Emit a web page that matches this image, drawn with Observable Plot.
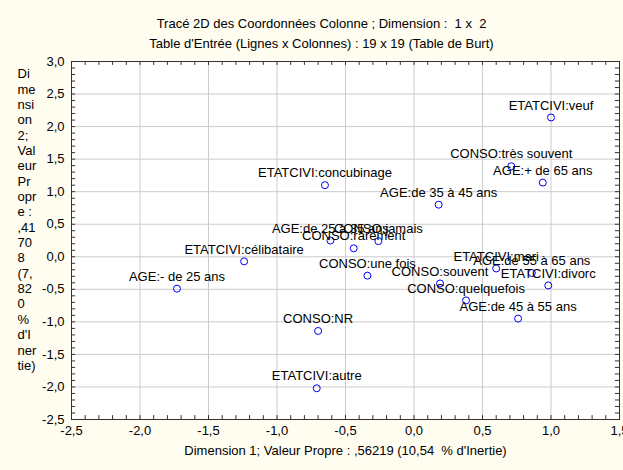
<!DOCTYPE html>
<html>
<head>
<meta charset="utf-8">
<script src="https://cdn.jsdelivr.net/npm/d3@7"></script>
<script src="https://cdn.jsdelivr.net/npm/@observablehq/plot@0.6"></script>
<style>
  html, body { margin: 0; padding: 0; background: #fffcf0; }
  svg { display: block; }
</style>
</head>
<body>
<div id="chart"></div>
<script>
const labels = [
  "ETATCIVI:veuf", "CONSO:très souvent", "AGE:+ de 65 ans", "AGE:de 35 à 45 ans",
  "ETATCIVI:concubinage", "AGE:de 25 à 35 ans", "CONSO:rarement", "CONSO:jamais",
  "CONSO:une fois", "ETATCIVI:célibataire", "AGE:- de 25 ans", "CONSO:NR",
  "ETATCIVI:autre", "CONSO:souvent", "ETATCIVI:mari", "AGE:de 55 à 65 ans",
  "ETATCIVI:divorc", "CONSO:quelquefois", "AGE:de 45 à 55 ans"
];
const dim1 = [1.00, 0.71, 0.94, 0.18, -0.65, -0.61, -0.44, -0.26, -0.34, -1.24, -1.73, -0.70, -0.71, 0.19, 0.60, 0.86, 0.98, 0.38, 0.76];
const dim2 = [2.14, 1.39, 1.14, 0.80, 1.10, 0.25, 0.13, 0.24, -0.29, -0.07, -0.49, -1.14, -2.02, -0.41, -0.18, -0.25, -0.44, -0.67, -0.95];

const xTicks = [-2.5, -2.0, -1.5, -1.0, -0.5, 0.0, 0.5, 1.0, 1.5];
const yTicks = [-2.5, -2.0, -1.5, -1.0, -0.5, 0.0, 0.5, 1.0, 1.5, 2.0, 2.5, 3.0];
const xMinor = d3.range(-25, 16).map(i => i / 10);
const yMinor = d3.range(-25, 31).map(i => i / 10);

const title1 = "Tracé 2D des Coordonnées Colonne ; Dimension :  1 x  2";
const title2 = "Table d'Entrée (Lignes x Colonnes) : 19 x 19 (Table de Burt)";
const xTitle = "Dimension 1; Valeur Propre : ,56219 (10,54  % d'Inertie)";
const yTitle = "Di\nme\nnsi\non\n2;\nVal\neur\nPr\nopr\ne :\n,41\n70\n8\n(7,\n82\n0\n%\nd'I\nner\ntie)";

const points = labels.map((l, i) => ({label: l, x: dim1[i], y: dim2[i]}));
const fmt = d => d.toFixed(1).replace(".", ",");

const xMin = -2.5, xMax = 1.5, yMin = -2.5, yMax = 3.0;
const xt = 0.03, yt = 0.06;
const FS = 13;

const chart = Plot.plot({
  width: 623,
  height: 470,
  marginLeft: 71,
  marginRight: 4,
  marginTop: 61,
  marginBottom: 51,
  style: {background: "#fffcf0", fontFamily: "Arial, 'Liberation Sans', sans-serif", fontSize: FS + "px", color: "#000", overflow: "hidden"},
  x: {domain: [xMin, xMax]},
  y: {domain: [yMin, yMax]},
  marks: [
    Plot.frame({fill: "white", stroke: null}),
    Plot.gridX(xTicks, {stroke: "#cccccc", strokeOpacity: 1}),
    Plot.gridY(yTicks, {stroke: "#cccccc", strokeOpacity: 1}),
    // inward minor ticks
    Plot.ruleX(xMinor, {y1: yMin, y2: yMin + yt, stroke: "#333"}),
    Plot.ruleX(xMinor, {y1: yMax, y2: yMax - yt, stroke: "#333"}),
    Plot.ruleY(yMinor, {x1: xMin, x2: xMin + xt, stroke: "#333"}),
    Plot.ruleY(yMinor, {x1: xMax, x2: xMax - xt, stroke: "#333"}),
    Plot.frame({stroke: "#333", strokeWidth: 1}),
    Plot.axisX(xTicks, {tickSize: 0, tickPadding: 6, tickFormat: fmt, label: null, fontSize: FS}),
    Plot.axisY(yTicks, {tickSize: 0, tickPadding: 7, tickFormat: fmt, label: null, fontSize: FS}),
    Plot.dot(points, {x: "x", y: "y", r: 3.5, stroke: "#0000ff", strokeWidth: 1, fill: "none"}),
    Plot.text(points, {x: "x", y: "y", text: "label", dy: -12, fill: "#000", fontSize: FS}),
    Plot.text([title1], {frameAnchor: "top", dx: -24, dy: -43, fontSize: FS, fill: "#000"}),
    Plot.text([title2], {frameAnchor: "top", dx: -24, dy: -23, fontSize: FS, fill: "#000"}),
    Plot.text([xTitle], {frameAnchor: "bottom", dy: 35, fontSize: FS, fill: "#000"}),
    Plot.text([yTitle], {frameAnchor: "top-left", dx: -54, dy: 6, textAnchor: "start", lineAnchor: "top", lineHeight: 1.18, fontSize: FS, fill: "#000"})
  ]
});
document.getElementById("chart").appendChild(chart);
</script>
</body>
</html>
